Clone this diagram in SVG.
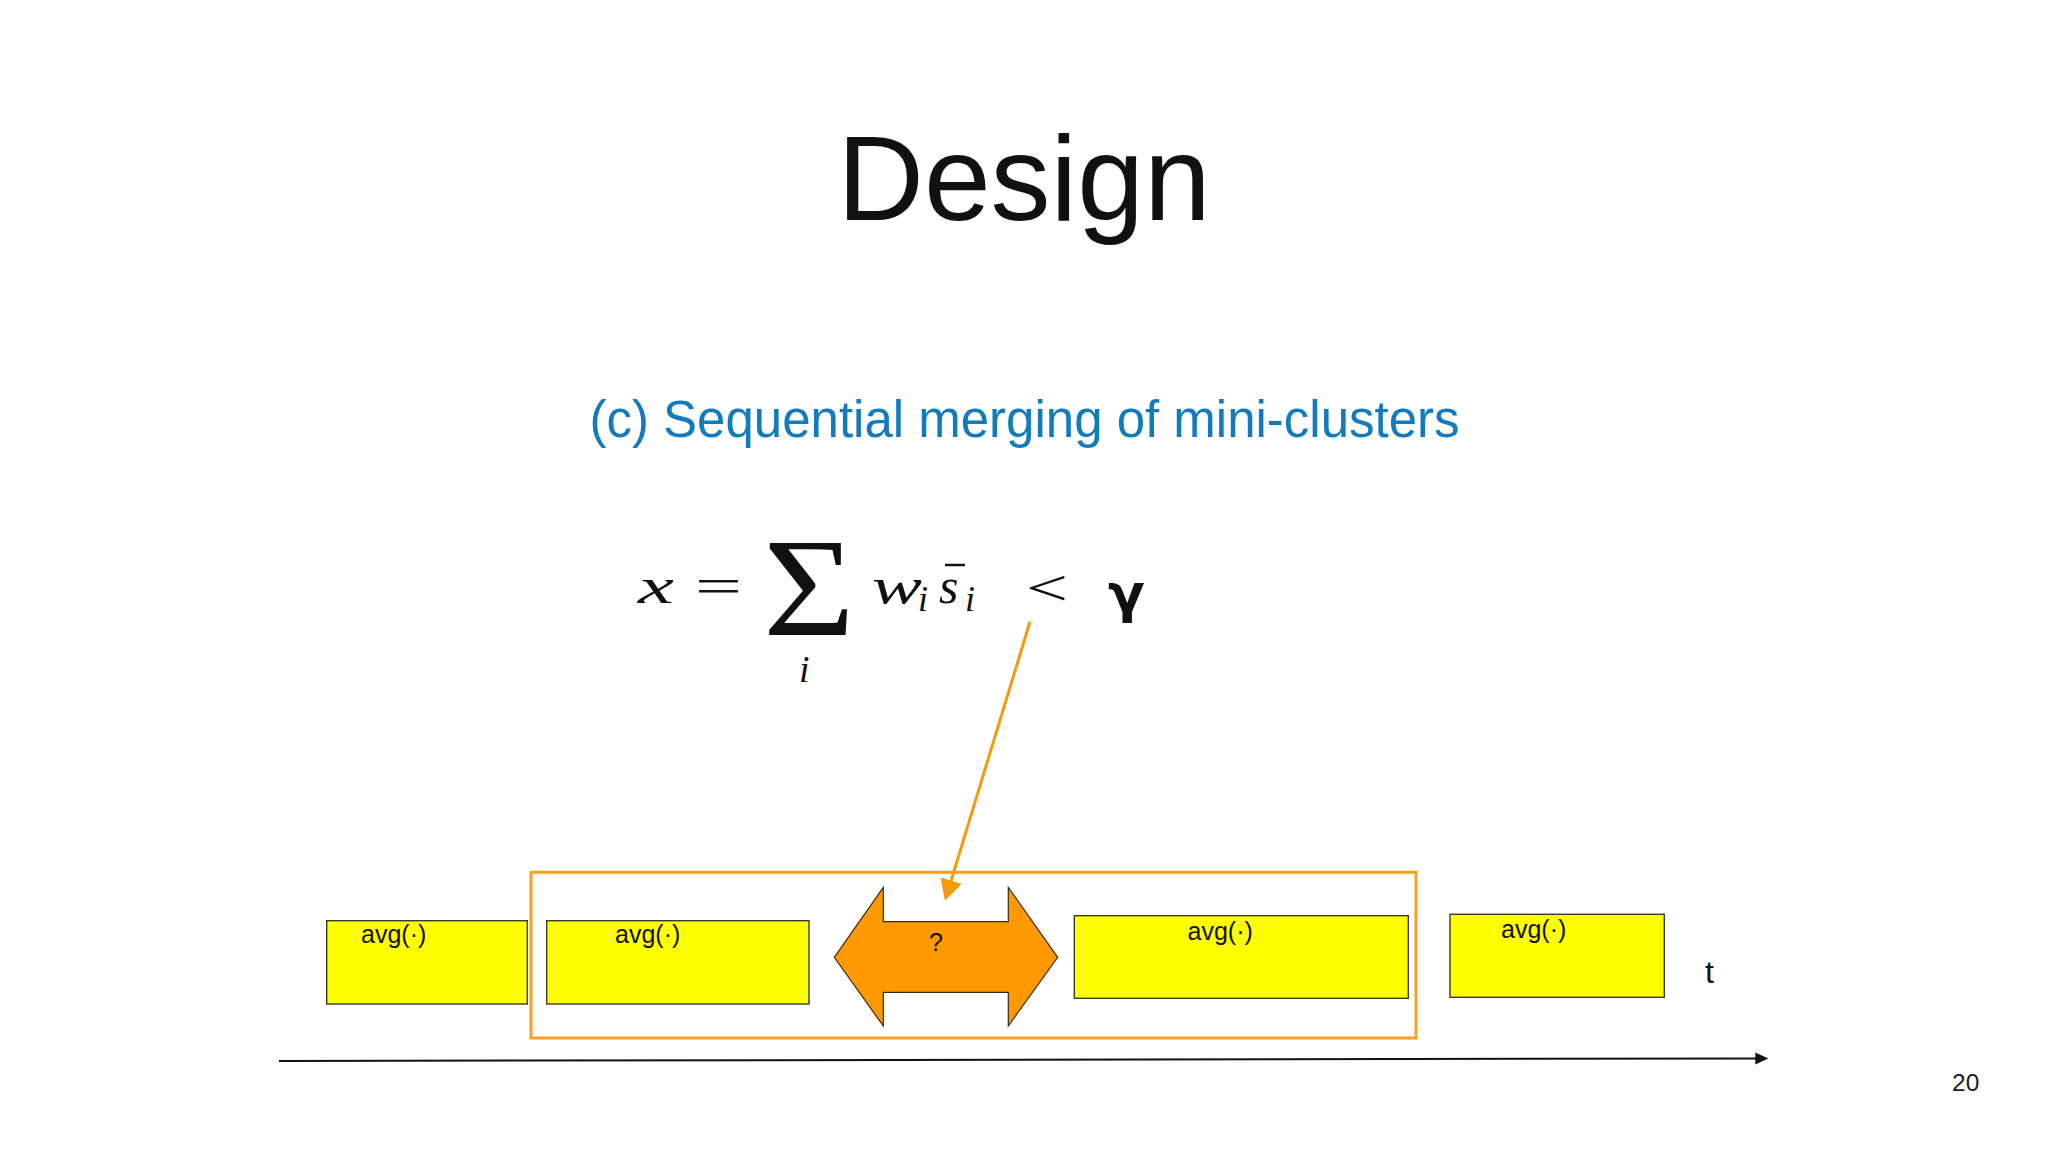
<svg xmlns="http://www.w3.org/2000/svg" width="2048" height="1152" viewBox="0 0 2048 1152">
  <style>
    .sans { font-family: "Liberation Sans", Arial, sans-serif; }
    .math { font-family: "Liberation Serif", "Times New Roman", serif; font-style: italic; fill: #111; }
    .mathup { font-family: "Liberation Serif", "Times New Roman", serif; fill: #111; }
    .box { fill: #ffff00; stroke: #3a3a2a; stroke-width: 1.4; }
    .lbl { font-family: "Liberation Sans", Arial, sans-serif; font-size: 25px; fill: #111; }
  </style>
  <defs>
    <marker id="ahOrange" markerUnits="userSpaceOnUse" markerWidth="22" markerHeight="22" refX="11" refY="11" orient="auto" viewBox="0 0 22 22">
      <path d="M0,0 L21,11 L0,22 z" fill="#f7990d"/>
    </marker>
    <marker id="ahBlack" markerUnits="userSpaceOnUse" markerWidth="14" markerHeight="14" refX="8" refY="6" orient="auto" viewBox="0 0 14 12">
      <path d="M0,0 L13,6 L0,12 z" fill="#111"/>
    </marker>
  </defs>
  <rect x="0" y="0" width="2048" height="1152" fill="#ffffff"/>

  <g id="title">
    <text class="sans" x="1024" y="220" font-size="120" text-anchor="middle" fill="#111">Design</text>
  </g>

  <g id="subtitle">
    <text class="sans" x="1024.5" y="436.7" font-size="51" text-anchor="middle" fill="#117bbd">(c) Sequential merging of mini-clusters</text>
  </g>

  <g id="formula">
    <text class="math" x="638" y="603.3" font-size="50" textLength="36" lengthAdjust="spacingAndGlyphs">x</text>
    <text class="mathup" x="695" y="603.3" font-size="50" textLength="47" lengthAdjust="spacingAndGlyphs">=</text>
    <text class="mathup" x="763" y="635" font-size="139" textLength="92" lengthAdjust="spacingAndGlyphs">Σ</text>
    <text class="math" x="799" y="681.7" font-size="38">i</text>
    <text class="math" x="872" y="603.3" font-size="50" textLength="50" lengthAdjust="spacingAndGlyphs">w</text>
    <text class="math" x="918" y="610.7" font-size="36">i</text>
    <text class="math" x="939" y="603.3" font-size="50">s</text>
    <line x1="945" y1="565" x2="965" y2="565" stroke="#111" stroke-width="2.5"/>
    <text class="math" x="965" y="610.7" font-size="36">i</text>
    <text class="mathup" x="1026" y="605" font-size="50" textLength="42" lengthAdjust="spacingAndGlyphs">&lt;</text>
    <text x="1108" y="612" font-family="'DejaVu Sans', sans-serif" font-size="54" font-weight="bold" fill="#111">γ</text>
  </g>

  <g id="merge-frame">
    <rect x="531" y="872.3" width="885" height="165.7" fill="none" stroke="#f8a01c" stroke-width="3"/>
  </g>

  <g id="box1">
    <rect class="box" x="326.7" y="920.7" width="200.6" height="83.3"/>
    <text class="lbl" x="361" y="943">avg(·)</text>
  </g>

  <g id="box2">
    <rect class="box" x="546.7" y="920.7" width="262.3" height="83.3"/>
    <text class="lbl" x="615" y="943">avg(·)</text>
  </g>

  <g id="merge-arrow">
    <polygon points="834.3,957.3 883.3,887.3 883.3,921.7 1008.3,921.7 1008.3,887.3 1057.7,957.3 1008.3,1026 1008.3,992.3 883.3,992.3 883.3,1026" fill="#ff9900" stroke="#3a2a10" stroke-width="1.2" stroke-linejoin="miter"/>
    <text class="lbl" x="936" y="950.7" text-anchor="middle">?</text>
  </g>

  <g id="box3">
    <rect class="box" x="1074.3" y="915.7" width="334" height="82.6"/>
    <text class="lbl" x="1187.5" y="940">avg(·)</text>
  </g>

  <g id="box4">
    <rect class="box" x="1450" y="914.3" width="214.3" height="83"/>
    <text class="lbl" x="1501" y="938.3">avg(·)</text>
  </g>

  <g id="time-label">
    <text class="sans" x="1705" y="983.3" font-size="32" fill="#111">t</text>
  </g>

  <g id="connectors">
    <line x1="1030" y1="621.7" x2="947.9" y2="891.1" stroke="#f7990d" stroke-width="3" marker-end="url(#ahOrange)"/>
    <line x1="279" y1="1061" x2="1763.3" y2="1058.4" stroke="#111" stroke-width="2" marker-end="url(#ahBlack)"/>
  </g>

  <g id="page-number">
    <text class="sans" x="1952" y="1091" font-size="24.5" fill="#1a1a1a">20</text>
  </g>
</svg>
